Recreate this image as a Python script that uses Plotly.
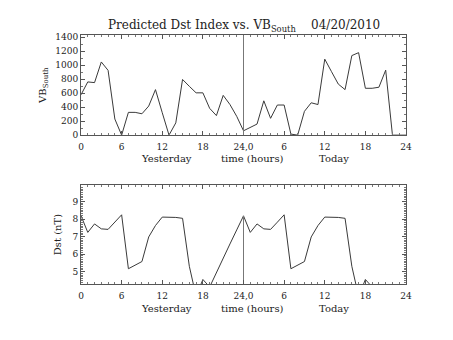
import plotly.graph_objects as go

hours_vb = list(range(49))
vb_south = [576, 760, 750, 1045, 925, 230, 0, 325, 325, 305, 415, 650, 320, 0, 175,
            795, 697, 604, 604, 383, 279, 568, 437, 268, 62, 108, 158, 490, 240, 430,
            430, 15, 0, 340, 462, 437, 1085, 906, 729, 650, 1136, 1178, 669, 669, 684,
            928, 0, 0, 0]

hours_dst = list(range(44))
dst = [8.19, 7.24, 7.72, 7.44, 7.41, 7.82, 8.24, 5.17, 5.37, 5.58, 6.98, 7.63, 8.11,
       8.11, 8.09, 8.04, 5.31, 3.6, 4.56, 4.13, 4.98, 5.78, 6.58, 7.38, 8.18, 7.24,
       7.72, 7.44, 7.41, 7.82, 8.24, 5.17, 5.37, 5.58, 6.98, 7.63, 8.11, 8.11, 8.09,
       8.04, 5.31, 3.6, 4.56, 4.13]

tick_vals = [0, 6, 12, 18, 24, 30, 36, 42, 48]
tick_text = ["0", "6", "12", "18", "24,0", "6", "12", "18", "24"]
day_labels = ["Yesterday", "time (hours)", "Today"]
day_label_x = [12.6, 25.4, 37.4]

vb_range = [0, 1427]
dst_range = [4.29, 9.94]
split_hour = 24

FONT = "DejaVu Serif"
LINE = "#3a3a3a"
TXT = "#222"

fig = go.Figure()
fig.add_trace(go.Scatter(x=hours_vb, y=vb_south, mode="lines",
                         line=dict(color=LINE, width=1), xaxis="x", yaxis="y"))
fig.add_trace(go.Scatter(x=hours_dst, y=dst, mode="lines",
                         line=dict(color=LINE, width=1), xaxis="x2", yaxis="y2"))
fig.add_trace(go.Scatter(x=[split_hour, split_hour], y=[dst_range[0], dst[split_hour]],
                         mode="lines", line=dict(color="#777", width=1),
                         xaxis="x2", yaxis="y2"))

axis_common = dict(showgrid=False, zeroline=False, showline=True, linecolor="#555",
                   linewidth=1, mirror="allticks", ticks="inside", ticklen=4,
                   tickcolor="#555", tickfont=dict(family=FONT, size=9, color=TXT))

xcommon = dict(axis_common, range=[0, 48], tickvals=tick_vals, ticktext=tick_text,
               ticklabelstandoff=3,
               minor=dict(dtick=1, ticklen=2, ticks="inside", tickcolor="#777"))

fig.update_layout(
    width=453, height=340,
    margin=dict(l=81, r=47, t=0, b=0),
    paper_bgcolor="white", plot_bgcolor="white",
    showlegend=False,
    xaxis=dict(xcommon, domain=[0, 1], anchor="y"),
    yaxis=dict(axis_common, domain=[0.602, 0.903], range=vb_range, dtick=200, tick0=0,
               minor=dict(dtick=100, ticklen=2, ticks="inside", tickcolor="#777"),
               title=dict(text="VB<sub>South</sub>", font=dict(family=FONT, size=10, color=TXT),
                          standoff=6)),
    xaxis2=dict(xcommon, domain=[0, 1], anchor="y2"),
    yaxis2=dict(axis_common, domain=[0.153, 0.452], range=dst_range, dtick=1, tick0=0,
                minor=dict(dtick=0.1, ticklen=2, ticks="inside", tickcolor="#777"),
                title=dict(text="Dst (nT)", font=dict(family=FONT, size=10, color=TXT),
                           standoff=8)),
    shapes=[dict(type="line", xref="x", yref="y domain", x0=split_hour, x1=split_hour,
                 y0=0, y1=1, line=dict(color="#777", width=1))],
)

annotations = [dict(text="Predicted Dst Index vs. VB<sub>South</sub>    04/20/2010",
                    xref="paper", yref="paper", x=0.5, y=0.932, xanchor="center",
                    yanchor="middle", showarrow=False,
                    font=dict(family=FONT, size=12, color=TXT))]
for lab, xl in zip(day_labels, day_label_x):
    annotations.append(dict(text=lab, xref="x", yref="paper", x=xl, y=0.532,
                            xanchor="center", yanchor="middle", showarrow=False,
                            font=dict(family=FONT, size=10, color=TXT)))
    annotations.append(dict(text=lab, xref="x2", yref="paper", x=xl, y=0.081,
                            xanchor="center", yanchor="middle", showarrow=False,
                            font=dict(family=FONT, size=10, color=TXT)))
fig.update_layout(annotations=annotations)

fig.write_html("out.html")
